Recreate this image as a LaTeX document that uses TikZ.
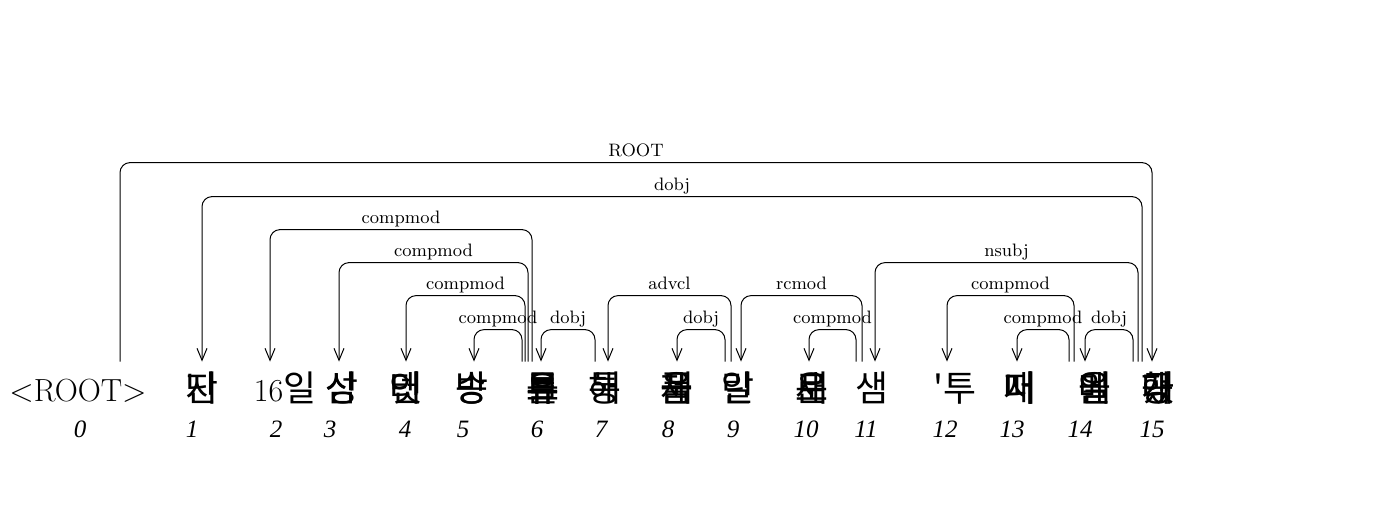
\documentclass[tikz,border=0pt]{standalone}
\usepackage{fontspec}
\newfontfamily\cjk[Scale=1.12]{Noto Sans CJK KR}
\newfontfamily\idxfont{Liberation Serif}
\usetikzlibrary{arrows.meta,calc}

% head word, dependent word, rise of the arc, relation
\newcommand{\deparc}[4]{\draw[dep] (#1) -- ++(0,#3) -| node[lbl,pos=0.25]{#4} (#2);}

\begin{document}
\begin{tikzpicture}[x=0.5pt,y=-0.5pt,
  word/.style={anchor=base,inner sep=0pt,text height=19.5pt,font=\fontsize{16}{19}\selectfont},
  idx/.style={inner sep=0pt,anchor=base,font=\idxfont\fontsize{12.5}{14}\selectfont\itshape},
  dep/.style={-{Straight Barb[length=6pt,width=5pt]},rounded corners=5pt,line width=0.5pt},
  lbl/.style={above=1pt,inner sep=0.5pt,text height=5.5pt,text depth=1.5pt,font=\fontsize{9}{10}\selectfont}]

  \useasboundingbox (0,0) rectangle (1374,520);

  \node[word] (w0) at (78,401) {<ROOT>};
  \node[word] (w1) at (202,401) {\cjk\rlap{지}난};
  \node[word] (w2) at (285,401) {16{\cjk 일}};
  \node[word] (w3) at (342,401) {\cjk\rlap{삼}성};
  \node[word] (w4) at (406,401) {\cjk\rlap{인}\rlap{터}넷};
  \node[word] (w5) at (472,401) {\cjk\rlap{방}송};
  \node[word] (w6) at (543,401) {\cjk\rlap{유}\rlap{튜}\rlap{브}를};
  \node[word] (w7) at (605,401) {\cjk\rlap{통}해};
  \node[word] (w8) at (677,401) {\cjk\rlap{제}\rlap{품}을};
  \node[word] (w9) at (738,401) {\cjk\rlap{알}린};
  \node[word] (w10) at (812,401) {\cjk\rlap{새}\rlap{로}운};
  \node[word] (w11) at (872,401) {\cjk 샘};
  \node[word] (w12) at (955,401) {\cjk\symbol{39}투};
  \node[word] (w13) at (1020,401) {\cjk\rlap{매}\rlap{니}저};
  \node[word] (w14) at (1095,401) {\cjk\rlap{메}\rlap{일}을};
  \node[word] (w15) at (1158,401) {\cjk\rlap{공}\rlap{개}\rlap{했}다};

  \foreach \i/\x in {0/80,1/192,2/276,3/330,4/405,5/463,6/537,7/601,8/668,9/733,10/806,11/866,12/945,13/1012,14/1080,15/1152}
    \node[idx] (i\i) at (\x,437) {\i};

  \deparc{$(w0.north)+(42,0)$}{$(w15.north)+(-6,0)$}{-199}{ROOT}
  \deparc{$(w15.north)+(-16,0)$}{w1.north}{-165}{dobj}
  \deparc{$(w6.north)+(-11,0)$}{$(w2.north)+(-15,0)$}{-132}{compmod}
  \deparc{$(w6.north)+(-15,0)$}{$(w3.north)+(-3,0)$}{-99}{compmod}
  \deparc{$(w6.north)+(-18,0)$}{w4.north}{-66}{compmod}
  \deparc{$(w6.north)+(-21,0)$}{$(w5.north)+(2,0)$}{-32}{compmod}
  \deparc{$(w7.north)+(-10,0)$}{$(w6.north)+(-2,0)$}{-32}{dobj}
  \deparc{$(w9.north)+(-7,0)$}{$(w7.north)+(3,0)$}{-66}{advcl}
  \deparc{$(w9.north)+(-13,0)$}{w8.north}{-32}{dobj}
  \deparc{$(w11.north)+(-10,0)$}{$(w9.north)+(3,0)$}{-66}{rcmod}
  \deparc{$(w11.north)+(-16,0)$}{$(w10.north)+(-3,0)$}{-32}{compmod}
  \deparc{$(w15.north)+(-20,0)$}{$(w11.north)+(3,0)$}{-99}{nsubj}
  \deparc{$(w14.north)+(-21,0)$}{$(w12.north)+(-8,0)$}{-66}{compmod}
  \deparc{$(w14.north)+(-26,0)$}{$(w13.north)+(-3,0)$}{-32}{compmod}
  \deparc{$(w15.north)+(-25,0)$}{$(w14.north)+(-10,0)$}{-32}{dobj}

\end{tikzpicture}
\end{document}
